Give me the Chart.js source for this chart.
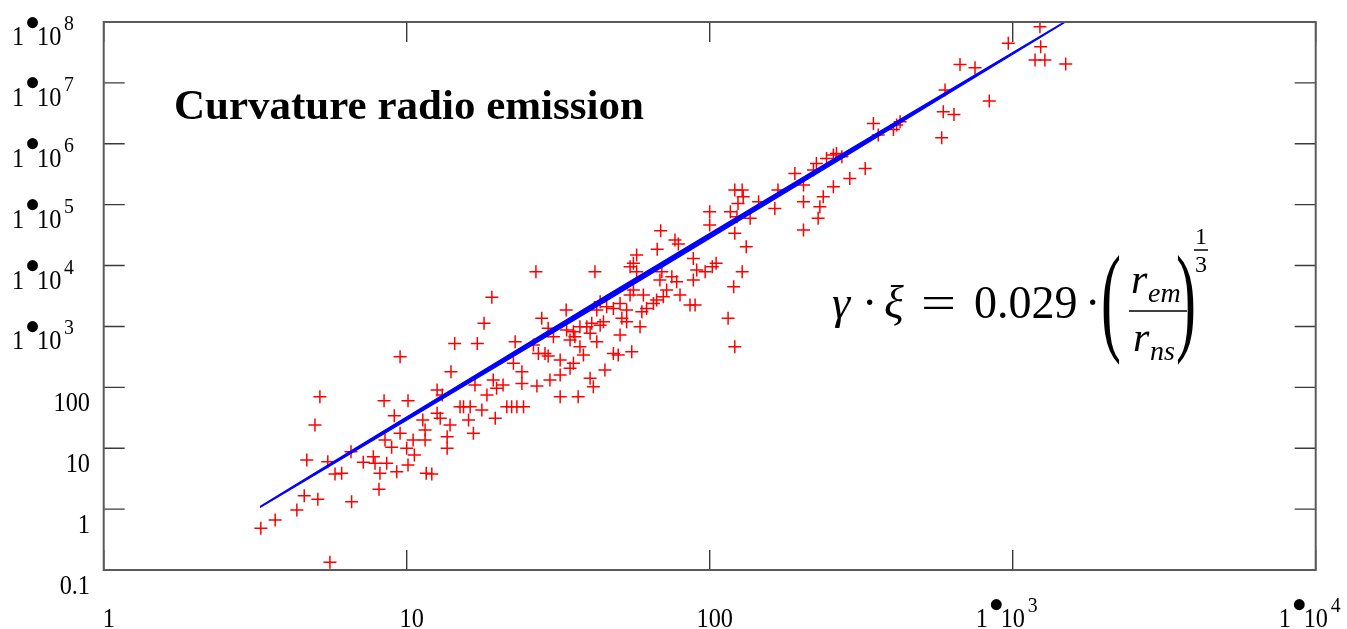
<!DOCTYPE html>
<html><head><meta charset="utf-8">
<script src="https://cdn.jsdelivr.net/npm/chart.js@4/dist/chart.umd.min.js"></script>
<style>html,body{margin:0;padding:0;background:#fff;}#wrap{width:1347px;height:629px;position:relative;}</style>
</head><body><div id="wrap"><canvas id="c" width="1347" height="629"></canvas></div>
<script>
// ---- axes / labels ----
const xTicks = [1, 10, 100, 1000, 10000];
const xTickLabels = ['1', '10', '100', '1•10^3', '1•10^4'];
const yTicks = [0.1, 1, 10, 100, 1e3, 1e4, 1e5, 1e6, 1e7, 1e8];
const yTickLabels = ['0.1', '1', '10', '100', '1•10^3', '1•10^4', '1•10^5', '1•10^6', '1•10^7', '1•10^8'];
const titleText = 'Curvature radio emission';

// ---- scatter data (red crosses) ----
const ptX = [3.30,3.68,4.34,4.59,5.09,6.58,5.58,8.10,4.68,5.49,4.98,5.17,9.51,14.4,17.1,22.8,8.42,10.1,9.10,6.55,
5.80,6.10,7.19,7.76,7.86,8.16,8.59,8.92,9.27,9.51,8.48,10.0,10.1,10.5,10.6,11.5,11.5,11.3,11.6,12.1,
12.6,12.9,12.6,13.1,13.6,13.6,14.0,13.9,15.0,15.4,16.0,16.6,16.2,16.8,17.7,18.4,19.3,19.8,19.6,20.8,
21.4,22.2,23.1,24.3,22.5,24.0,24.0,26.9,26.2,27.2,26.7,41.8,19.1,18.0,27.9,33.6,68.9,76.8,78.8,67.1,
57.4,56.0,54.6,57.4,69.5,75.0,77.8,68.5,88.3,90.6,88.3,79.8,72.1,70.3,66.8,65.2,61.9,59.7,56.0,54.6,
60.4,86.1,89.5,50.6,48.1,45.7,43.5,42.4,53.2,51.3,53.2,44.6,43.5,40.8,58.9,50.6,39.3,37.3,40.3,42.4,
35.5,35.9,34.6,37.3,38.3,33.7,30.5,29.3,48.1,49.9,55.3,32.1,28.6,29.3,35.5,34.6,32.1,29.7,45.1,40.3,
41.3,32.1,36.8,347,414,360,404,326,290,256,243,262,273,225,220,191,204,256,237,231,
204,228,204,168,164,145,121,128,129,124,117,100,100,123,136,121,132,128,120,115,
121,105,102,96.6,1230,967,1237,1185,1277,1496,670,751,837,598,590,640,583,425];
const ptY = [0.484,0.662,0.967,1.66,1.45,1.32,0.134,2.11,6.40,6.00,24.0,70.2,318,527,527,561,60.3,60.3,34.2,8.77,
3.77,3.87,5.86,7.25,5.65,3.87,5.65,10.4,4.11,17.6,13.6,9.95,5.30,13.6,7.73,13.6,19.9,29.0,3.87,3.77,
37.4,31.0,90.4,74.8,15.5,9.95,180,24.0,48.0,48.0,29.0,17.6,48.0,109,42.4,74.8,132,96.4,31.0,109,
48.0,48.0,48.0,48.0,248,180,116,105,495,361,7910,7910,3010,1125,1360,1860,37300,26200,22500,18500,
14900,10900,9550,7910,7910,6550,5420,5780,13100,8430,5780,3280,3960,3080,2710,2390,1980,1740,3960,3280,
3280,2240,2240,2390,1980,2110,2550,1860,1860,1360,1190,1190,1050,1125,988,723,988,988,771,561,
818,678,598,465,339,873,678,931,361,339,385,281,361,327,248,205,159,132,192,141,
102,70.2,70.2,2.16e6,2.03e6,1.39e6,1.72e6,3.94e5,2.70e5,6.52e5,5.75e5,6.95e5,6.12e5,4.76e5,3.70e5,3.26e5,2.10e5,1.97e5,1.35e5,9.25e4,
1.12e5,5.96e4,3.83e4,1.74e5,8.69e4,1.12e5,1.74e5,1.74e5,1.35e5,1.05e5,7.64e4,7.64e4,4.62e4,6.32e4,5.96e4,3.38e4,2.04e4,7910,4490,1360,
465,10900,9550,7910,8.34e7,4.46e7,3.92e7,2.37e7,2.37e7,2.04e7,2.01e7,1.77e7,5.02e6,7.62e6,3.35e6,3.04e6,1.26e6,2.30e6];

// ---- fitted law (blue band edges) ----
const fitX = [3.28, 8, 45, 300, 1489];
const fitUpperY = [1.10, 16.6, 3100, 9.0e5, 1.02e8];
const fitLowerY = [1.06, 14.8, 2510, 7.6e5, 0.99e8];

const pts = ptX.map((x, i) => ({x: x, y: ptY[i]}));
const up = fitX.map((x, i) => ({x: x, y: fitUpperY[i]}));
const lo = fitX.map((x, i) => ({x: x, y: fitLowerY[i]}));

const SERIF = '"Liberation Serif", "Times New Roman", serif';

function drawText(ctx, txt, x, y, font, sx) {
  ctx.save();
  ctx.font = font;
  ctx.translate(x, y);
  ctx.scale(sx || 1, 1);
  ctx.fillText(txt, 0, 0);
  ctx.restore();
}
function drawBullet(ctx, cx, cy, diam) {
  ctx.save();
  ctx.font = '100px ' + SERIF;
  const m = ctx.measureText('•');
  const w = m.actualBoundingBoxRight + m.actualBoundingBoxLeft;
  const s = 100 * diam / w;
  ctx.font = s.toFixed(2) + 'px ' + SERIF;
  const m2 = ctx.measureText('•');
  const icx = (m2.actualBoundingBoxRight - m2.actualBoundingBoxLeft) / 2;
  const icy = (m2.actualBoundingBoxDescent - m2.actualBoundingBoxAscent) / 2;
  ctx.textAlign = 'left';
  ctx.fillText('•', cx - icx, cy - icy);
  ctx.restore();
}
const LBL = '27px ' + SERIF, SUP = '22px ' + SERIF, SX = 0.9;
function drawExpLabel(ctx, str, x0, base) {
  const parts = str.split('^');
  const mant = parts[0].split('•');
  ctx.textAlign = 'left';
  drawText(ctx, mant[0], x0, base, LBL, SX);
  drawBullet(ctx, x0 + 20.5, base - 22.5, 11.5);
  drawText(ctx, mant[1], x0 + 25, base, LBL, SX);
  drawText(ctx, parts[1], x0 + 52, base - 15, SUP, SX);
}

const decor = {
  id: 'decor',
  afterDraw(chart) {
    const ctx = chart.ctx, a = chart.chartArea, xs = chart.scales.x, ys = chart.scales.y;
    ctx.save();
    // tick marks (inside, mirrored)
    ctx.strokeStyle = '#3a3a3a'; ctx.lineWidth = 1.4;
    ctx.beginPath();
    xTicks.forEach(v => {
      const px = xs.getPixelForValue(v);
      ctx.moveTo(px, a.bottom); ctx.lineTo(px, a.bottom - 20);
      ctx.moveTo(px, a.top); ctx.lineTo(px, a.top + 20);
    });
    yTicks.forEach(v => {
      const py = ys.getPixelForValue(v);
      ctx.moveTo(a.left, py); ctx.lineTo(a.left + 21, py);
      ctx.moveTo(a.right, py); ctx.lineTo(a.right - 21, py);
    });
    ctx.stroke();
    // frame
    ctx.strokeStyle = '#5a5a5a'; ctx.lineWidth = 2;
    ctx.strokeRect(a.left, a.top, a.right - a.left, a.bottom - a.top);

    // tick labels
    ctx.fillStyle = '#000';
    ctx.textBaseline = 'alphabetic';
    yTicks.forEach((v, i) => {
      const py = ys.getPixelForValue(v);
      const s = yTickLabels[i];
      if (s.indexOf('^') >= 0) {
        drawExpLabel(ctx, s, 12, py + 23);
      } else {
        ctx.save(); ctx.font = LBL; ctx.textAlign = 'right';
        ctx.translate(90, py + 24); ctx.scale(SX, 1); ctx.fillText(s, 0, 0); ctx.restore();
      }
    });
    xTicks.forEach((v, i) => {
      const px = xs.getPixelForValue(v);
      const s = xTickLabels[i];
      if (s.indexOf('^') >= 0) {
        drawExpLabel(ctx, s, px - 37, 627);
      } else {
        ctx.save(); ctx.font = LBL; ctx.textAlign = 'center';
        ctx.translate(px + 5, 627); ctx.scale(SX, 1); ctx.fillText(s, 0, 0); ctx.restore();
      }
    });

    // title
    ctx.textAlign = 'left';
    ctx.font = 'bold 43px ' + SERIF;
    ctx.fillText(titleText, 174, 119);

    // formula
    const F = '46px ' + SERIF, FI = 'italic 46px ' + SERIF;
    ctx.font = FI; ctx.fillText('γ', 832, 318);
    ctx.font = F; ctx.fillText('·', 862, 318);
    ctx.font = FI; ctx.fillText('ξ', 884, 318);
    drawText(ctx, '=', 921, 318, F, 1.35);
    ctx.font = F; ctx.fillText('0.029', 974, 318);
    ctx.fillText('·', 1085, 318);
    drawText(ctx, '(', 1101, 339, '120px ' + SERIF, 0.5);
    ctx.font = 'italic 42px ' + SERIF; ctx.fillText('r', 1131, 293);
    ctx.font = 'italic 28px ' + SERIF; ctx.fillText('em', 1148, 302);
    ctx.font = 'italic 42px ' + SERIF; ctx.fillText('r', 1133, 351);
    ctx.font = 'italic 28px ' + SERIF; ctx.fillText('ns', 1150, 360);
    drawText(ctx, ')', 1176, 339, '120px ' + SERIF, 0.5);
    ctx.strokeStyle = '#000'; ctx.lineWidth = 1.6;
    ctx.beginPath(); ctx.moveTo(1129, 311); ctx.lineTo(1187, 311);
    ctx.moveTo(1194, 250); ctx.lineTo(1208, 250); ctx.stroke();
    ctx.font = '24px ' + SERIF; ctx.fillText('1', 1195, 244); ctx.fillText('3', 1195, 272);
    ctx.restore();
  }
};

new Chart(document.getElementById('c'), {
  type: 'scatter',
  data: {
    datasets: [
      {data: up, showLine: true, borderColor: '#0000ff', borderWidth: 1.2, pointRadius: 0, fill: false, order: 0, tension: 0},
      {data: lo, showLine: true, borderColor: '#0000ff', borderWidth: 1.2, pointRadius: 0, fill: '-1', backgroundColor: '#0000ff', order: 0, tension: 0},
      {data: pts, pointStyle: 'cross', pointRadius: 6.5, borderColor: '#ff0000', borderWidth: 1.5, backgroundColor: '#ff0000', order: 1}
    ]
  },
  options: {
    responsive: false, animation: false, devicePixelRatio: 1,
    layout: {padding: {left: 103.7, top: 22, right: 31.3, bottom: 59}},
    plugins: {legend: {display: false}, tooltip: {enabled: false}},
    scales: {
      x: {type: 'logarithmic', min: 1, max: 10000, display: false},
      y: {type: 'logarithmic', min: 0.1, max: 1e8, display: false}
    }
  },
  plugins: [decor]
});
</script></body></html>
